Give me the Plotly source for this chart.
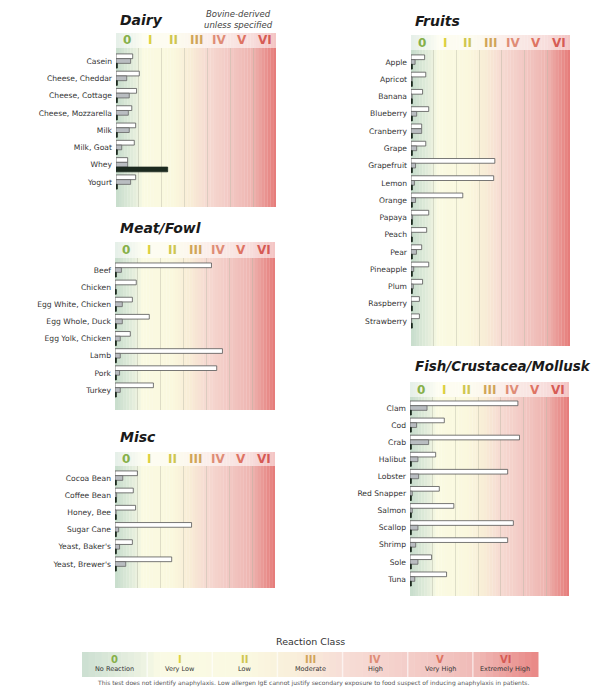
import plotly.graph_objects as go

# ---------------- data ----------------
classes = ["0", "I", "II", "III", "IV", "V", "VI"]
class_names = ["No Reaction", "Very Low", "Low", "Moderate", "High", "Very High", "Extremely High"]

dairy_items = ["Casein", "Cheese, Cheddar", "Cheese, Cottage", "Cheese, Mozzarella", "Milk", "Milk, Goat", "Whey", "Yogurt"]
dairy_white = [0.73, 1.02, 0.90, 0.69, 0.86, 0.80, 0.51, 0.86]
dairy_gray = [0.64, 0.47, 0.58, 0.54, 0.58, 0.25, 0.51, 0.64]
dairy_black = [0.06, 0.06, 0.06, 0.06, 0.06, 0.06, 2.26, 0.06]

fruit_items = ["Apple", "Apricot", "Banana", "Blueberry", "Cranberry", "Grape", "Grapefruit", "Lemon", "Orange",
               "Papaya", "Peach", "Pear", "Pineapple", "Plum", "Raspberry", "Strawberry"]
fruit_white = [0.60, 0.65, 0.51, 0.78, 0.47, 0.65, 3.69, 3.64, 2.28, 0.78, 0.69, 0.47, 0.78, 0.51, 0.37, 0.37]
fruit_gray = [0.18, 0.05, 0.05, 0.25, 0.47, 0.25, 0.20, 0.15, 0.20, 0.07, 0.03, 0.24, 0.12, 0.10, 0.03, 0.03]
fruit_black = [0.06] * 16

meat_items = ["Beef", "Chicken", "Egg White, Chicken", "Egg Whole, Duck", "Egg Yolk, Chicken", "Lamb", "Pork", "Turkey"]
meat_white = [4.22, 0.93, 0.76, 1.50, 0.67, 4.70, 4.45, 1.68]
meat_gray = [0.28, 0.03, 0.32, 0.32, 0.23, 0.23, 0.20, 0.23]
meat_black = [0.06] * 8

misc_items = ["Cocoa Bean", "Coffee Bean", "Honey, Bee", "Sugar Cane", "Yeast, Baker's", "Yeast, Brewer's"]
misc_white = [0.98, 0.80, 0.90, 3.35, 0.76, 2.48]
misc_gray = [0.34, 0.07, 0.05, 0.16, 0.20, 0.47]
misc_black = [0.06] * 6

fish_items = ["Clam", "Cod", "Crab", "Halibut", "Lobster", "Red Snapper", "Salmon", "Scallop", "Shrimp", "Sole", "Tuna"]
fish_white = [4.75, 1.51, 4.82, 1.13, 4.30, 1.29, 1.93, 4.55, 4.30, 0.95, 1.61]
fish_gray = [0.75, 0.29, 0.82, 0.35, 0.38, 0.10, 0.10, 0.35, 0.25, 0.35, 0.21]
fish_black = [0.06] * 11

# ---------------- layout helpers ----------------
W, H = 606, 687


def px(x):
    return x / W


def py(y):
    return 1 - y / H


stops = [
    (0.0, (198, 220, 204)),
    (0.9, (232, 240, 222)),
    (1.2, (250, 250, 226)),
    (2.5, (250, 248, 222)),
    (3.3, (248, 236, 214)),
    (4.0, (246, 218, 210)),
    (5.0, (242, 200, 195)),
    (6.0, (238, 180, 176)),
    (7.0, (230, 122, 120)),
]


def grad(t, lighten=0.0):
    for (t0, c0), (t1, c1) in zip(stops[:-1], stops[1:]):
        if t0 <= t <= t1:
            f = (t - t0) / (t1 - t0)
            c = [c0[i] + (c1[i] - c0[i]) * f for i in range(3)]
            break
    else:
        c = stops[-1][1]
    c = [v + (255 - v) * lighten for v in c]
    return "rgb(%d,%d,%d)" % tuple(int(round(v)) for v in c)


num_colors = ["#86b04a", "#dcd040", "#cfc650", "#d1a458", "#df8c76", "#de7362", "#d65a54"]

panels = [
    dict(title="Dairy", items=dairy_items, white=dairy_white, gray=dairy_gray, black=dairy_black,
         x0=116, x1=276, top=48, bottom=207, head=33, first=61, last=182, tx=118, ty=20, ts=14),
    dict(title="Fruits", items=fruit_items, white=fruit_white, gray=fruit_gray, black=fruit_black,
         x0=411, x1=570, top=50, bottom=346, head=35, first=62, last=321, tx=413, ty=21, ts=14),
    dict(title="Meat/Fowl", items=meat_items, white=meat_white, gray=meat_gray, black=meat_black,
         x0=115, x1=275, top=258, bottom=410, head=242, first=270, last=390, tx=118, ty=228, ts=14),
    dict(title="Misc", items=misc_items, white=misc_white, gray=misc_gray, black=misc_black,
         x0=115, x1=275, top=466, bottom=588, head=452, first=478, last=564, tx=118, ty=437, ts=14),
    dict(title="Fish/Crustacea/Mollusk", items=fish_items, white=fish_white, gray=fish_gray, black=fish_black,
         x0=410, x1=569, top=397, bottom=596, head=382, first=408, last=579, tx=413, ty=367, ts=13.4),
]

fig = go.Figure()
shapes = []
annotations = []
NSTRIP = 56

for i, p in enumerate(panels):
    k = "" if i == 0 else str(i + 1)
    xa, ya = "x" + k, "y" + k
    n = len(p["items"])
    s = (p["last"] - p["first"]) / (n - 1)
    r_top = -(p["first"] - p["top"]) / s
    r_bot = (n - 1) + (p["bottom"] - p["last"]) / s

    for name, vals, fill, line in [("white", p["white"], "white", "#555555"),
                                   ("gray", p["gray"], "#b9bdc1", "#666666"),
                                   ("black", p["black"], "#1c2a1f", "#1c2a1f")]:
        fig.add_trace(go.Bar(
            y=p["items"], x=vals, orientation="h", xaxis=xa, yaxis=ya,
            marker=dict(color=fill, line=dict(color=line, width=0.8)),
            showlegend=False, hoverinfo="skip", name=name))

    fig.update_layout(**{
        ("xaxis" + k): dict(domain=[px(p["x0"]), px(p["x1"])], range=[0, 7], anchor=ya,
                            showticklabels=False, ticks="", tickvals=[1, 2, 3, 4, 5, 6],
                            showgrid=True, gridcolor="rgba(170,170,150,0.35)", gridwidth=1,
                            zeroline=False, showline=False, fixedrange=True),
        ("yaxis" + k): dict(domain=[py(p["bottom"]), py(p["top"])], range=[r_bot, r_top], anchor=xa,
                            type="category", categoryorder="array", categoryarray=p["items"],
                            showgrid=False, zeroline=False, showline=False, ticks="",
                            ticklabelstandoff=3,
                            tickfont=dict(family="DejaVu Sans", size=7.6, color="#333333"),
                            fixedrange=True),
    })

    # background gradient strips (plot area and header band)
    for j in range(NSTRIP):
        t0 = 7 * j / NSTRIP
        t1 = 7 * (j + 1) / NSTRIP + 0.01
        tm = (t0 + t1) / 2
        shapes.append(dict(type="rect", xref=xa, yref=ya + " domain", x0=t0, x1=t1, y0=0, y1=1,
                           fillcolor=grad(tm), line=dict(width=0), layer="below"))
        shapes.append(dict(type="rect", xref=xa, yref="paper", x0=t0, x1=t1,
                           y0=py(p["top"]), y1=py(p["head"]),
                           fillcolor=grad(tm, 0.55), line=dict(width=0), layer="below"))

    for c in range(7):
        annotations.append(dict(xref=xa, yref="paper", x=c + 0.5, y=py((p["head"] + p["top"]) / 2),
                                text="<b>%s</b>" % classes[c], showarrow=False,
                                font=dict(family="DejaVu Sans", size=12, color=num_colors[c]),
                                xanchor="center", yanchor="middle"))

    annotations.append(dict(xref="paper", yref="paper", x=px(p["tx"]), y=py(p["ty"]),
                            text="<b><i>%s</i></b>" % p["title"], showarrow=False,
                            font=dict(family="DejaVu Sans", size=p["ts"], color="#1a1a1a"),
                            xanchor="left", yanchor="middle"))

annotations.append(dict(xref="paper", yref="paper", x=px(238), y=py(19.5),
                        text="<i>Bovine-derived<br>unless specified</i>", showarrow=False, align="center",
                        font=dict(family="DejaVu Sans", size=8.5, color="#444444"),
                        xanchor="center", yanchor="middle"))

# ---------------- legend bar ----------------
LX0, LX1, LY0, LY1 = 82, 538, 652, 677
for j in range(70):
    t0 = 7 * j / 70
    t1 = 7 * (j + 1) / 70
    shapes.append(dict(type="rect", xref="paper", yref="paper",
                       x0=px(LX0 + (LX1 - LX0) * t0 / 7), x1=px(LX0 + (LX1 - LX0) * t1 / 7 + 0.5),
                       y0=py(LY1), y1=py(LY0), fillcolor=grad((t0 + t1) / 2, 0.1), line=dict(width=0),
                       layer="below"))
for c in range(1, 7):
    xx = px(LX0 + (LX1 - LX0) * c / 7)
    shapes.append(dict(type="line", xref="paper", yref="paper", x0=xx, x1=xx, y0=py(LY1), y1=py(LY0),
                       line=dict(color="rgba(255,255,255,0.6)", width=1.5)))
for c in range(7):
    xc = px(LX0 + (LX1 - LX0) * (c + 0.5) / 7)
    annotations.append(dict(xref="paper", yref="paper", x=xc, y=py(659), text="<b>%s</b>" % classes[c],
                            showarrow=False, font=dict(family="DejaVu Sans", size=10, color=num_colors[c]),
                            xanchor="center", yanchor="middle"))
    annotations.append(dict(xref="paper", yref="paper", x=xc, y=py(668.5), text=class_names[c],
                            showarrow=False, font=dict(family="DejaVu Sans", size=6.5, color="#333333"),
                            xanchor="center", yanchor="middle"))
annotations.append(dict(xref="paper", yref="paper", x=px(310), y=py(641), text="Reaction Class",
                        showarrow=False, font=dict(family="DejaVu Sans", size=9.5, color="#333333"),
                        xanchor="center", yanchor="middle"))
annotations.append(dict(xref="paper", yref="paper", x=px(95), y=py(683),
                        text="This test does not identify anaphylaxis. Low allergen IgE cannot justify secondary exposure to food suspect of inducing anaphylaxis in patients.",
                        showarrow=False, font=dict(family="DejaVu Sans", size=6, color="#555555"),
                        xanchor="left", yanchor="middle"))

fig.update_layout(
    width=W, height=H, margin=dict(l=0, r=0, t=0, b=0),
    paper_bgcolor="white", plot_bgcolor="white",
    barmode="group", bargap=0.18, bargroupgap=0.0,
    shapes=shapes, annotations=annotations,
)

fig.write_html("out.html", config={"displayModeBar": False},
               post_script="document.body.style.margin='0';document.body.style.padding='0';")
